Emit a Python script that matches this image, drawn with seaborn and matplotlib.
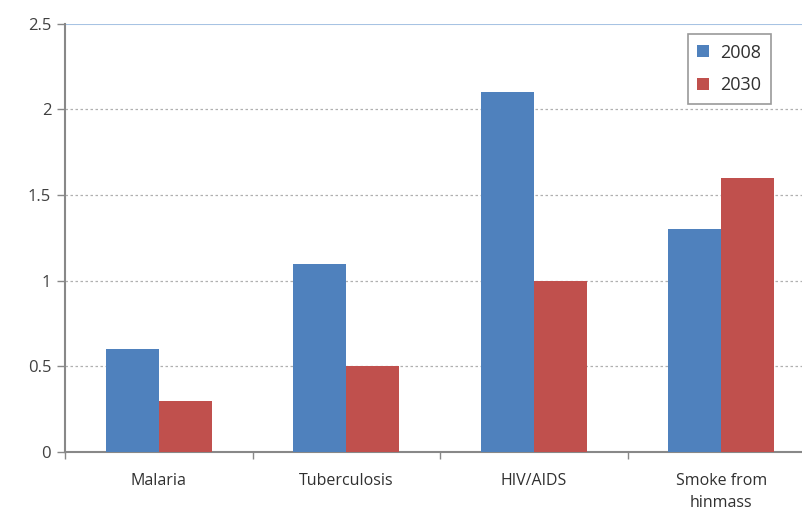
import matplotlib
matplotlib.use("Agg")
import matplotlib.pyplot as plt
import seaborn as sns
import pandas as pd
from matplotlib.ticker import FixedLocator

categories = ["Malaria", "Tuberculosis", "HIV/AIDS", "Smoke from\nhinmass"]
years = ["2008", "2030"]
values_2008 = [0.6, 1.1, 2.1, 1.3]
values_2030 = [0.3, 0.5, 1.0, 1.6]
yticks = [0, 0.5, 1, 1.5, 2, 2.5]
ytick_labels = ["0", "0.5", "1", "1.5", "2", "2.5"]

df = pd.DataFrame({
    "category": categories * 2,
    "year": [years[0]] * 4 + [years[1]] * 4,
    "value": values_2008 + values_2030,
})

sns.set_theme(style="white")
plt.rcParams["font.family"] = ["Open Sans", "DejaVu Sans"]

fig = plt.figure(figsize=(8.03, 5.16), dpi=100)
ax = fig.add_axes([0.081, 0.124, 0.934, 0.830])

sns.barplot(data=df, x="category", y="value", hue="year",
            palette=["#4F81BD", "#C0504D"], width=0.566,
            saturation=1, ax=ax, errorbar=None, zorder=3, linewidth=0)

ax.set_xlim(-0.5, 3.5)
ax.set_ylim(0, 2.5)
ax.set_yticks(yticks)
ax.set_yticklabels(ytick_labels, fontsize=12, color="#404040")
ax.set_xlabel("")
ax.set_ylabel("")
ax.tick_params(axis="x", which="major", length=0, labelsize=11.5,
               labelcolor="#303030", pad=15)
for lbl in ax.get_xticklabels():
    lbl.set_linespacing(1.5)
ax.xaxis.set_minor_locator(FixedLocator([-0.5, 0.5, 1.5, 2.5, 3.5]))
ax.tick_params(axis="x", which="minor", length=5, width=1, color="#888888",
               direction="out", bottom=True)
ax.tick_params(axis="y", length=6, width=1, color="#888888", direction="out",
               left=True, pad=4)

for y in [0.5, 1, 1.5, 2]:
    ax.axhline(y, color="#B0B0B0", lw=0.9, ls=(0, (2, 2)), zorder=1)
ax.axhline(2.5, color="#A7C3E3", lw=1.5, zorder=1)

for s in ["top", "right"]:
    ax.spines[s].set_visible(False)
for s in ["left", "bottom"]:
    ax.spines[s].set_color("#888888")
    ax.spines[s].set_linewidth(1.5)

leg = ax.legend(loc="upper left", bbox_to_anchor=(0.83, 0.977),
                frameon=True, fancybox=False, fontsize=13,
                handlelength=0.65, handleheight=0.65, handletextpad=0.6,
                borderpad=0.55, labelspacing=0.8, edgecolor="#808080",
                borderaxespad=0)
leg.get_frame().set_linewidth(1.2)
for t in leg.get_texts():
    t.set_color("#303030")

fig.savefig("out.png", dpi=100)
